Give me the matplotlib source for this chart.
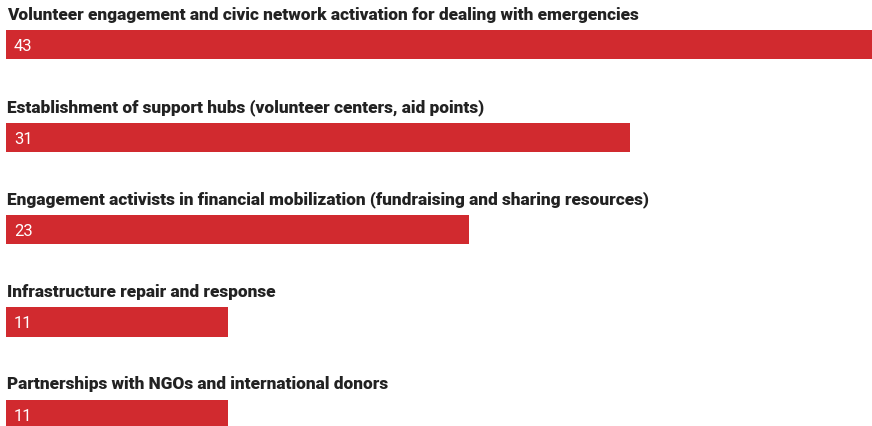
import matplotlib
matplotlib.use("Agg")
import matplotlib.pyplot as plt

# share of respondents per activity type
labels = [
    "Volunteer engagement and civic network activation for dealing with emergencies",
    "Establishment of support hubs (volunteer centers, aid points)",
    "Engagement activists in financial mobilization (fundraising and sharing resources)",
    "Infrastructure repair and response",
    "Partnerships with NGOs and international donors",
]
values = [43, 31, 23, 11, 11]

BAR_RED = "#d12a2f"
BAR_H = 0.315
plt.rcParams["font.family"] = ["Roboto", "DejaVu Sans"]

fig = plt.figure(figsize=(8.72, 4.27), dpi=100)
ax = fig.add_axes([6 / 872, 0, 866 / 872, 1])

pos = list(range(len(values)))
ax.barh(pos, values, height=BAR_H, color=BAR_RED, align="center")

for i, (lab, v) in enumerate(zip(labels, values)):
    # category title sits just above its bar, value label inside the bar
    ax.text(0.05, i - BAR_H / 2 - 0.125, lab, fontsize=12.4, fontweight="heavy",
            color="#222222", va="baseline", ha="left")
    ax.text(0.40, i + 0.01, str(v), fontsize=12, color="white",
            va="center", ha="left")

ax.set_xlim(0, 43)
ax.set_ylim(4.126, -0.496)
ax.axis("off")

fig.savefig("out.png", dpi=100)
